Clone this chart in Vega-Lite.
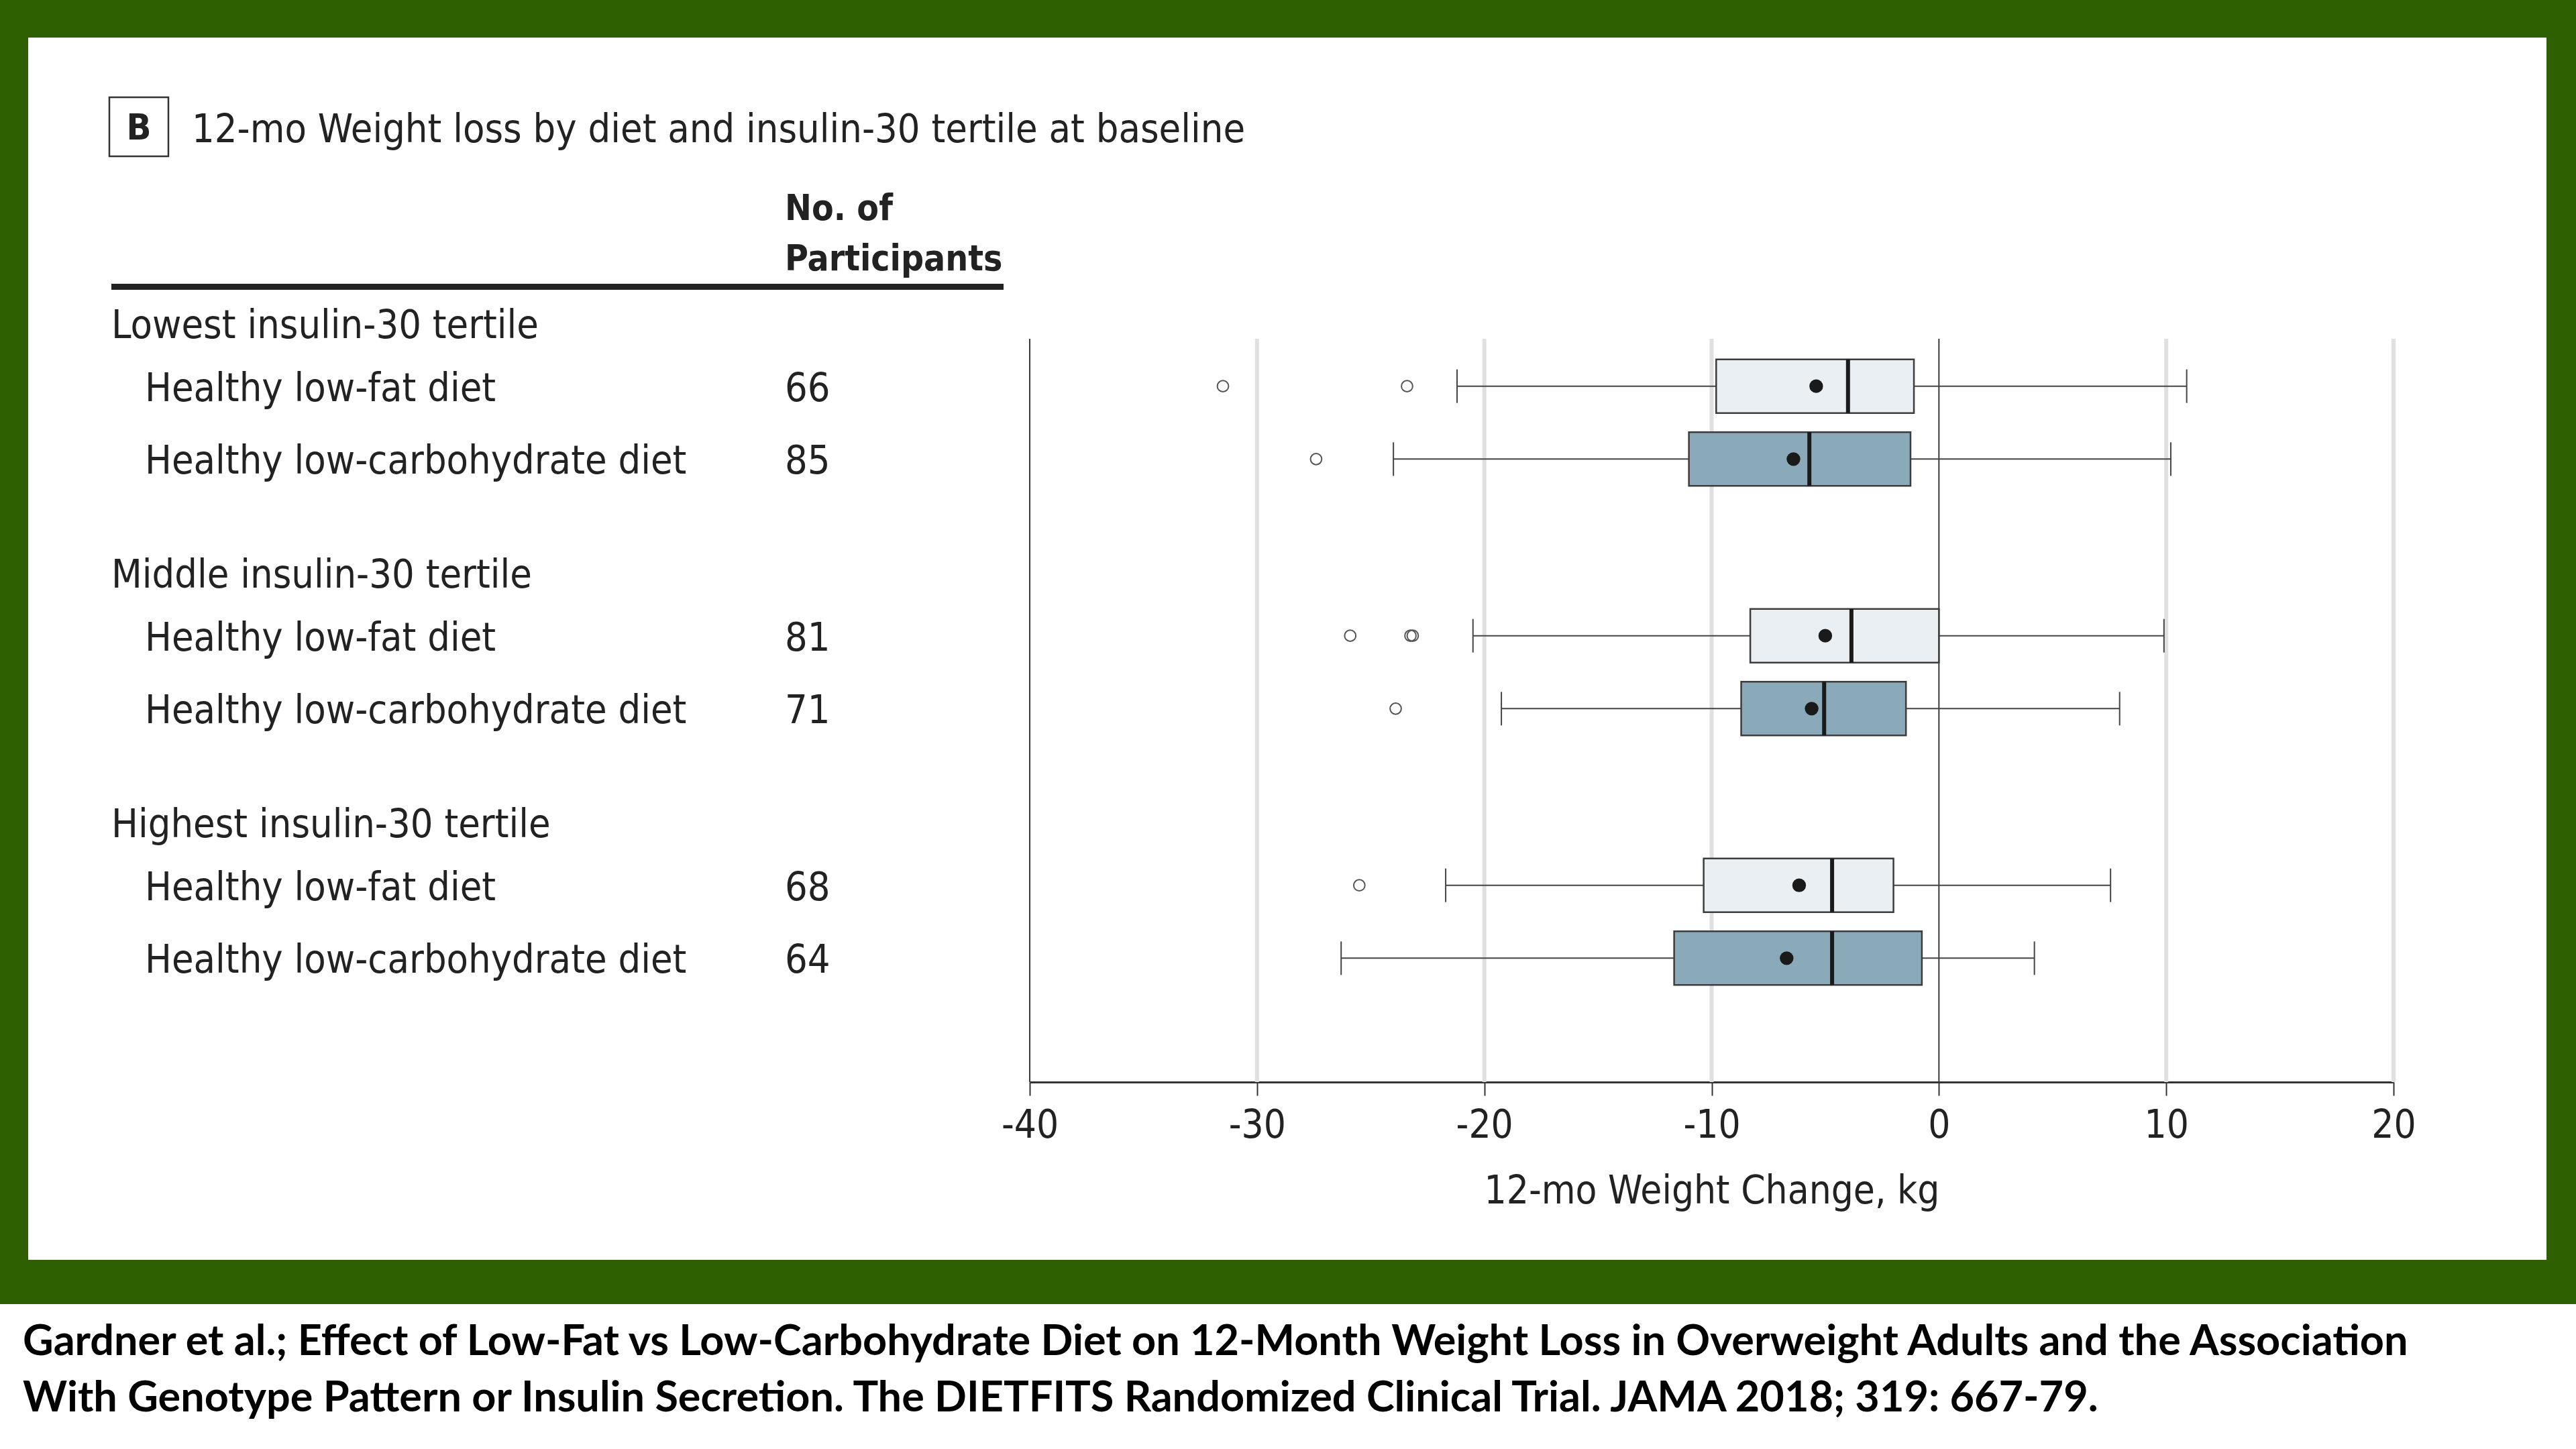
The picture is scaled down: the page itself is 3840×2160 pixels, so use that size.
{
  "$schema": "https://vega.github.io/schema/vega-lite/v6.json",
  "width": 3820,
  "height": 1888,
  "autosize": {"type": "none"},
  "padding": {"left": 9, "top": 23, "right": 11, "bottom": 249},
  "background": "#ffffff",
  "view": {"fill": "#ffffff", "stroke": "#2e6002", "strokeWidth": 66},
  "title": {
    "text": [
      "Gardner et al.; Effect of Low-Fat vs Low-Carbohydrate Diet on 12-Month Weight Loss in Overweight Adults and the Association",
      "With Genotype Pattern or Insulin Secretion. The DIETFITS Randomized Clinical Trial. JAMA 2018; 319: 667-79."
    ],
    "orient": "bottom",
    "anchor": "start",
    "frame": "group",
    "offset": 109,
    "dx": 25,
    "baseline": "alphabetic",
    "lineHeight": 84,
    "font": "Lato",
    "fontSize": 63,
    "fontWeight": "bold",
    "color": "#000000"
  },
  "config": {
    "font": "Liberation Sans Narrow, DejaVu Sans Condensed, sans-serif",
    "text": {"font": "Liberation Sans Narrow, DejaVu Sans Condensed, sans-serif", "color": "#222222", "fontSize": 59}
  },
  "datasets": {
    "stats": [
      {"group": "Lowest insulin-30 tertile", "diet": "Healthy low-fat diet", "n": 66, "lo": -21.2, "q1": -9.8, "median": -4.0, "q3": -1.1, "hi": 10.9, "mean": -5.4},
      {"group": "Lowest insulin-30 tertile", "diet": "Healthy low-carbohydrate diet", "n": 85, "lo": -24.0, "q1": -11.0, "median": -5.7, "q3": -1.25, "hi": 10.2, "mean": -6.4},
      {"group": "Middle insulin-30 tertile", "diet": "Healthy low-fat diet", "n": 81, "lo": -20.5, "q1": -8.3, "median": -3.85, "q3": 0.0, "hi": 9.9, "mean": -5.0},
      {"group": "Middle insulin-30 tertile", "diet": "Healthy low-carbohydrate diet", "n": 71, "lo": -19.25, "q1": -8.7, "median": -5.05, "q3": -1.45, "hi": 7.95, "mean": -5.6},
      {"group": "Highest insulin-30 tertile", "diet": "Healthy low-fat diet", "n": 68, "lo": -21.7, "q1": -10.35, "median": -4.7, "q3": -2.0, "hi": 7.55, "mean": -6.15},
      {"group": "Highest insulin-30 tertile", "diet": "Healthy low-carbohydrate diet", "n": 64, "lo": -26.3, "q1": -11.65, "median": -4.7, "q3": -0.75, "hi": 4.2, "mean": -6.7}
    ],
    "outliers": [
      {"group": "Lowest insulin-30 tertile", "diet": "Healthy low-fat diet", "value": -31.5},
      {"group": "Lowest insulin-30 tertile", "diet": "Healthy low-fat diet", "value": -23.4},
      {"group": "Lowest insulin-30 tertile", "diet": "Healthy low-carbohydrate diet", "value": -27.4},
      {"group": "Middle insulin-30 tertile", "diet": "Healthy low-fat diet", "value": -25.9},
      {"group": "Middle insulin-30 tertile", "diet": "Healthy low-fat diet", "value": -23.25},
      {"group": "Middle insulin-30 tertile", "diet": "Healthy low-fat diet", "value": -23.15},
      {"group": "Middle insulin-30 tertile", "diet": "Healthy low-carbohydrate diet", "value": -23.9},
      {"group": "Highest insulin-30 tertile", "diet": "Healthy low-fat diet", "value": -25.5}
    ],
    "gridlines": [
      {"kg": -40}, {"kg": -30}, {"kg": -20}, {"kg": -10}, {"kg": 0}, {"kg": 10}, {"kg": 20}
    ]
  },
  "encoding": {
    "y": {
      "field": "group",
      "type": "nominal",
      "axis": null,
      "scale": {
        "domain": ["Lowest insulin-30 tertile", "Middle insulin-30 tertile", "Highest insulin-30 tertile"],
        "range": [482, 1590],
        "paddingInner": 0.328,
        "paddingOuter": 0.1532,
        "align": 0
      }
    }
  },
  "layer": [
    {
      "layer": [
        {
          "data": {"name": "gridlines"},
          "mark": {"type": "rule", "yOffset": -125, "y2Offset": 239},
          "encoding": {
            "x": {
              "field": "kg",
              "type": "quantitative",
              "scale": {"domain": [-40, 20], "range": [1526, 3559], "nice": false, "zero": false},
              "title": "12-mo Weight Change, kg",
              "axis": {
                "title": "12-mo Weight Change, kg",
                "values": [-40, -30, -20, -10, 0, 10, 20],
                "grid": false,
                "offset": -298,
                "domainColor": "#333333",
                "domainWidth": 3,
                "tickColor": "#333333",
                "tickWidth": 2,
                "tickSize": 20,
                "labelFont": "Liberation Sans Narrow, DejaVu Sans Condensed, sans-serif",
                "labelFontSize": 58,
                "labelColor": "#222222",
                "labelPadding": 16,
                "labelExpr": "'' + datum.value",
                "labelFlush": false,
                "labelOverlap": false,
                "titleFont": "Liberation Sans Narrow, DejaVu Sans Condensed, sans-serif",
                "titleFontSize": 58,
                "titleFontWeight": "normal",
                "titleColor": "#222222",
                "titlePadding": 40
              }
            },
            "y": {"datum": "Lowest insulin-30 tertile", "type": "nominal"},
            "y2": {"datum": "Highest insulin-30 tertile"},
            "color": {"condition": {"test": "datum.kg === 0 || datum.kg === -40", "value": "#3a3a3a"}, "value": "#e0e0e0"},
            "strokeWidth": {"condition": {"test": "datum.kg === 0 || datum.kg === -40", "value": 2}, "value": 6}
          }
        },
        {
          "data": {"name": "stats"},
          "mark": {"type": "rule", "color": "#444444", "strokeWidth": 2},
          "encoding": {
            "x": {"field": "lo", "type": "quantitative", "scale": {"domain": [-40, 20], "range": [1526, 3559], "nice": false, "zero": false}, "title": "12-mo Weight Change, kg"},
            "x2": {"field": "hi"},
            "yOffset": {"field": "diet", "type": "nominal", "scale": {"domain": ["Healthy low-fat diet", "Healthy low-carbohydrate diet"], "paddingInner": 0.264, "paddingOuter": 0.282}}
          }
        },
        {
          "data": {"name": "stats"},
          "mark": {"type": "tick", "orient": "vertical", "size": 50, "thickness": 2, "color": "#444444", "opacity": 1},
          "encoding": {
            "x": {"field": "lo", "type": "quantitative", "scale": {"domain": [-40, 20], "range": [1526, 3559], "nice": false, "zero": false}, "title": "12-mo Weight Change, kg"},
            "yOffset": {"field": "diet", "type": "nominal", "scale": {"domain": ["Healthy low-fat diet", "Healthy low-carbohydrate diet"], "paddingInner": 0.264, "paddingOuter": 0.282}}
          }
        },
        {
          "data": {"name": "stats"},
          "mark": {"type": "tick", "orient": "vertical", "size": 50, "thickness": 2, "color": "#444444", "opacity": 1},
          "encoding": {
            "x": {"field": "hi", "type": "quantitative", "scale": {"domain": [-40, 20], "range": [1526, 3559], "nice": false, "zero": false}, "title": "12-mo Weight Change, kg"},
            "yOffset": {"field": "diet", "type": "nominal", "scale": {"domain": ["Healthy low-fat diet", "Healthy low-carbohydrate diet"], "paddingInner": 0.264, "paddingOuter": 0.282}}
          }
        },
        {
          "data": {"name": "stats"},
          "mark": {"type": "bar", "stroke": "#3c3c3c", "strokeWidth": 2.5, "opacity": 1},
          "encoding": {
            "x": {"field": "q1", "type": "quantitative", "scale": {"domain": [-40, 20], "range": [1526, 3559], "nice": false, "zero": false}, "title": "12-mo Weight Change, kg"},
            "x2": {"field": "q3"},
            "yOffset": {"field": "diet", "type": "nominal", "scale": {"domain": ["Healthy low-fat diet", "Healthy low-carbohydrate diet"], "paddingInner": 0.264, "paddingOuter": 0.282}},
            "fill": {"field": "diet", "type": "nominal", "scale": {"domain": ["Healthy low-fat diet", "Healthy low-carbohydrate diet"], "range": ["#eaeff3", "#8aaaba"]}, "legend": null}
          }
        },
        {
          "data": {"name": "stats"},
          "mark": {"type": "tick", "orient": "vertical", "size": 80, "thickness": 6, "color": "#1a1a1a", "opacity": 1},
          "encoding": {
            "x": {"field": "median", "type": "quantitative", "scale": {"domain": [-40, 20], "range": [1526, 3559], "nice": false, "zero": false}, "title": "12-mo Weight Change, kg"},
            "yOffset": {"field": "diet", "type": "nominal", "scale": {"domain": ["Healthy low-fat diet", "Healthy low-carbohydrate diet"], "paddingInner": 0.264, "paddingOuter": 0.282}}
          }
        },
        {
          "data": {"name": "stats"},
          "mark": {"type": "point", "filled": true, "size": 415, "color": "#1a1a1a", "opacity": 1},
          "encoding": {
            "x": {"field": "mean", "type": "quantitative", "scale": {"domain": [-40, 20], "range": [1526, 3559], "nice": false, "zero": false}, "title": "12-mo Weight Change, kg"},
            "yOffset": {"field": "diet", "type": "nominal", "scale": {"domain": ["Healthy low-fat diet", "Healthy low-carbohydrate diet"], "paddingInner": 0.264, "paddingOuter": 0.282}}
          }
        },
        {
          "data": {"name": "outliers"},
          "mark": {"type": "point", "filled": false, "size": 280, "color": "#555555", "strokeWidth": 2, "opacity": 1},
          "encoding": {
            "x": {"field": "value", "type": "quantitative", "scale": {"domain": [-40, 20], "range": [1526, 3559], "nice": false, "zero": false}, "title": "12-mo Weight Change, kg"},
            "yOffset": {"field": "diet", "type": "nominal", "scale": {"domain": ["Healthy low-fat diet", "Healthy low-carbohydrate diet"], "paddingInner": 0.264, "paddingOuter": 0.282}}
          }
        }
      ]
    },
    {
      "layer": [
        {
          "data": {"values": [{"panel": "B"}]},
          "mark": {"type": "point", "shape": "square", "size": 7744, "filled": false, "color": "#333333", "strokeWidth": 2.5, "opacity": 1, "xOffset": 41, "yOffset": -441},
          "encoding": {
            "x": {"datum": "label", "type": "nominal", "scale": {"type": "point", "domain": ["label", "n"], "range": [157, 1161], "padding": 0}, "axis": null},
            "y": {"datum": "Lowest insulin-30 tertile", "type": "nominal"}
          }
        },
        {
          "data": {"values": [{"panel": "B"}]},
          "mark": {"type": "text", "fontWeight": "bold", "fontSize": 54, "align": "center", "baseline": "alphabetic", "dx": 41, "dy": -422},
          "encoding": {
            "x": {"datum": "label", "type": "nominal", "scale": {"type": "point", "domain": ["label", "n"], "range": [157, 1161], "padding": 0}, "axis": null},
            "y": {"datum": "Lowest insulin-30 tertile", "type": "nominal"},
            "text": {"field": "panel"}
          }
        },
        {
          "data": {"values": [{"heading": "12-mo Weight loss by diet and insulin-30 tertile at baseline"}]},
          "mark": {"type": "text", "fontSize": 59, "align": "left", "baseline": "alphabetic", "dx": 120, "dy": -418},
          "encoding": {
            "x": {"datum": "label", "type": "nominal", "scale": {"type": "point", "domain": ["label", "n"], "range": [157, 1161], "padding": 0}, "axis": null},
            "y": {"datum": "Lowest insulin-30 tertile", "type": "nominal"},
            "text": {"field": "heading"}
          }
        },
        {
          "data": {"values": [{"heading": ["No. of", "Participants"]}]},
          "mark": {"type": "text", "fontSize": 53, "fontWeight": "bold", "align": "left", "baseline": "alphabetic", "lineHeight": 75, "dy": -302},
          "encoding": {
            "x": {"datum": "n", "type": "nominal", "scale": {"type": "point", "domain": ["label", "n"], "range": [157, 1161], "padding": 0}, "axis": null},
            "y": {"datum": "Lowest insulin-30 tertile", "type": "nominal"},
            "text": {"field": "heading"}
          }
        },
        {
          "data": {"values": [{"panel": "B"}]},
          "mark": {"type": "rule", "color": "#222222", "strokeWidth": 9, "x2Offset": 326, "yOffset": -202.5},
          "encoding": {
            "x": {"datum": "label", "type": "nominal", "scale": {"type": "point", "domain": ["label", "n"], "range": [157, 1161], "padding": 0}, "axis": null},
            "x2": {"datum": "n"},
            "y": {"datum": "Lowest insulin-30 tertile", "type": "nominal"}
          }
        },
        {
          "data": {"name": "stats"},
          "transform": [{"filter": "datum.diet === 'Healthy low-fat diet'"}],
          "mark": {"type": "text", "align": "left", "baseline": "alphabetic", "dy": -126},
          "encoding": {
            "x": {"datum": "label", "type": "nominal", "scale": {"type": "point", "domain": ["label", "n"], "range": [157, 1161], "padding": 0}, "axis": null},
            "text": {"field": "group"}
          }
        },
        {
          "data": {"name": "stats"},
          "mark": {"type": "text", "align": "left", "baseline": "alphabetic", "dx": 50, "dy": 22},
          "encoding": {
            "x": {"datum": "label", "type": "nominal", "scale": {"type": "point", "domain": ["label", "n"], "range": [157, 1161], "padding": 0}, "axis": null},
            "yOffset": {"field": "diet", "type": "nominal", "scale": {"domain": ["Healthy low-fat diet", "Healthy low-carbohydrate diet"], "paddingInner": 0.264, "paddingOuter": 0.282}},
            "text": {"field": "diet"}
          }
        },
        {
          "data": {"name": "stats"},
          "mark": {"type": "text", "align": "left", "baseline": "alphabetic", "dy": 22},
          "encoding": {
            "x": {"datum": "n", "type": "nominal", "scale": {"type": "point", "domain": ["label", "n"], "range": [157, 1161], "padding": 0}, "axis": null},
            "yOffset": {"field": "diet", "type": "nominal", "scale": {"domain": ["Healthy low-fat diet", "Healthy low-carbohydrate diet"], "paddingInner": 0.264, "paddingOuter": 0.282}},
            "text": {"field": "n", "type": "quantitative"}
          }
        }
      ]
    }
  ],
  "resolve": {"scale": {"x": "independent"}}
}
